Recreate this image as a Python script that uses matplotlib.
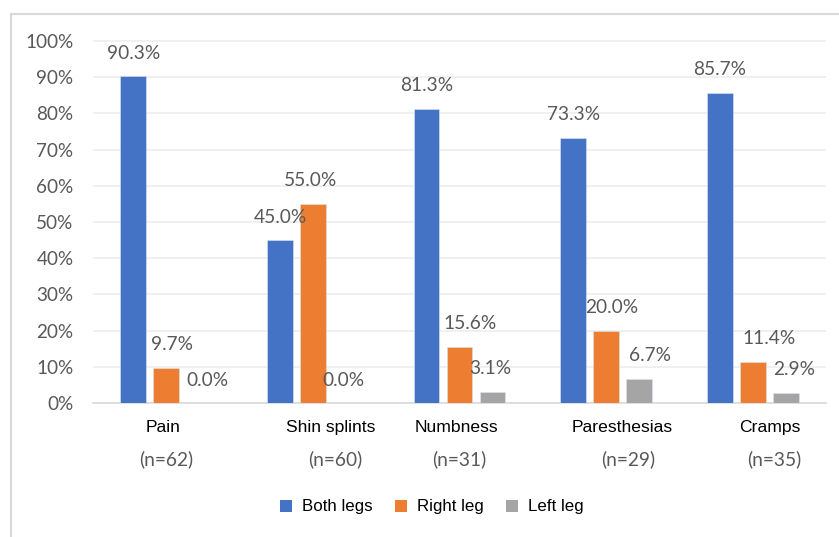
import matplotlib.pyplot as plt
import numpy as np
from matplotlib.patches import Patch
from matplotlib.lines import Line2D

# symptom groups and sample sizes
symptoms = ['Pain', 'Shin splints', 'Numbness', 'Paresthesias', 'Cramps']
sample_sizes = [62, 60, 31, 29, 35]

# share of patients (%) by affected side
both_legs = [90.3, 45.0, 81.3, 73.3, 85.7]
right_leg = [9.7, 55.0, 15.6, 20.0, 11.4]
left_leg = [0.0, 0.0, 3.1, 6.7, 2.9]

series_names = ['Both legs', 'Right leg', 'Left leg']
colors = ['#4472C4', '#ED7D31', '#A5A5A5']

NUM_FONT = 'Lato'
TXT_FONT = 'Liberation Sans'

fig = plt.figure(figsize=(8.39, 5.37), dpi=100)
W, H = 839, 537
ax = fig.add_axes([93 / W, 1 - 403 / H, (826 - 93) / W, (403 - 37.4) / H])

x = np.arange(len(symptoms))
width = 0.177
pitch = 0.225
all_series = [both_legs, right_leg, left_leg]

# small horizontal nudges (px) for the value labels
label_dx = [
    [0, 0, 0, 0, 0],
    [6, -2, 11, 6, 16],
    [8, -2, -2, 11, 8],
]

for k, (vals, col) in enumerate(zip(all_series, colors)):
    pos = x + (k - 1) * pitch
    ax.bar(pos, vals, width, color=col, edgecolor='#DDE4F0', linewidth=0.4, zorder=3)
    for j, (p, v) in enumerate(zip(pos, vals)):
        ax.annotate(f'{v:.1f}%', (p, v), xytext=(label_dx[k][j] * 0.72, 16.5),
                    textcoords='offset points', ha='center', va='center',
                    fontsize=13.8, color='#595959', family=NUM_FONT, zorder=4)

ax.set_xlim(-0.5, len(symptoms) - 0.5)
ax.set_ylim(0, 101)
ax.set_yticks(np.arange(0, 101, 10))
ax.set_yticklabels([f'{t}%' for t in range(0, 101, 10)], family=NUM_FONT,
                   fontsize=13.6, color='#595959')
ax.tick_params(axis='y', length=0, pad=14)
ax.set_xticks([])
ax.grid(axis='y', color='#EDEDED', linewidth=1.2, zorder=0)
for s in ['top', 'right', 'left']:
    ax.spines[s].set_visible(False)
ax.spines['bottom'].set_color('#D9D9D9')
ax.spines['bottom'].set_linewidth(1.2)

# category names with their sample sizes underneath
name_dx = [-0.02, 0.12, -0.02, 0.11, 0.12]
n_dx = [0.0, 0.15, 0.0, 0.15, 0.15]
for i, (name, n) in enumerate(zip(symptoms, sample_sizes)):
    ax.text(i + name_dx[i], -6.7, name, ha='center', va='center', fontsize=12.6,
            family=TXT_FONT, color='#000000', transform=ax.transData, clip_on=False)
    ax.text(i + n_dx[i], -15.5, f'(n={n})', ha='center', va='center', fontsize=13.8,
            family=NUM_FONT, color='#595959', transform=ax.transData, clip_on=False)

handles = [Patch(facecolor=c, edgecolor='none') for c in colors]
fig.legend(handles, series_names, loc='center', bbox_to_anchor=(432 / W, 1 - 507 / H),
           ncol=3, frameon=False, handlelength=0.7, handleheight=0.7,
           handletextpad=0.6, columnspacing=1.3,
           prop={'family': TXT_FONT, 'size': 12.2})

# outer chart border (left and top edges visible)
border_kw = dict(color='#D9D9D9', linewidth=1.5, transform=fig.transFigure)
fig.add_artist(Line2D([11 / W, 11 / W], [0, 1 - 14 / H], **border_kw))
fig.add_artist(Line2D([11 / W, 1], [1 - 14 / H, 1 - 14 / H], **border_kw))

fig.savefig('out.png', dpi=100, facecolor='white')
